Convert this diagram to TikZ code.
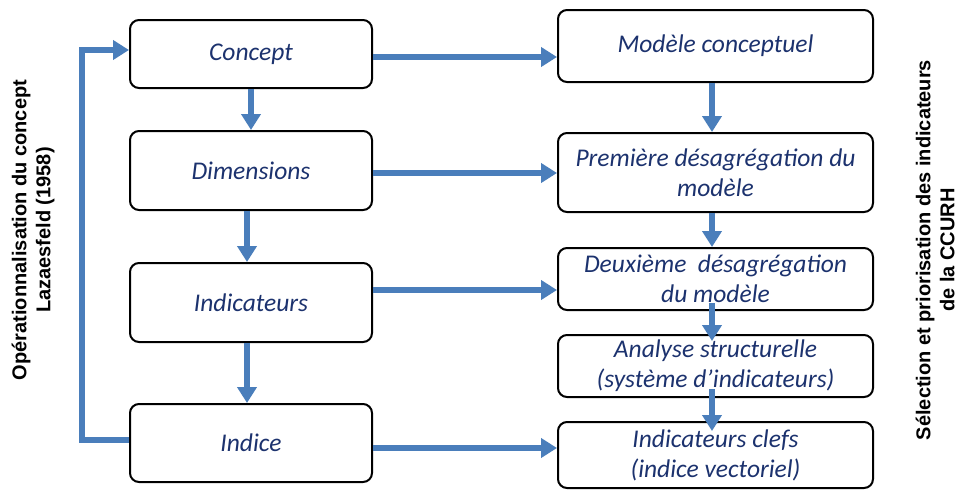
\documentclass[tikz,border=0pt]{standalone}
\usepackage{fontspec}
\setmainfont{Carlito}
\setsansfont{Liberation Sans}
\usetikzlibrary{arrows.meta}

\begin{document}
\begin{tikzpicture}[x=1pt,y=-1pt]
    % 定义颜色
    \definecolor{flowblue}{RGB}{74,126,187}
    \definecolor{textnavy}{RGB}{28,50,110}
    % 固定画布大小
    \useasboundingbox (0,0) rectangle (957,490);

    % --- 设置全局样式 ---
    % 方框样式
    \tikzset{BoxStyle/.style = {
        draw=black,             % 边框颜色
        fill=white,             % 填充颜色
        rounded corners=9pt,    % 圆角
        line width=2pt,         % 边框粗细
        inner sep=2pt,          % 内部文字边距
        align=center,           % 文字居中
        text=textnavy,          % 文字颜色
        font=\fontsize{25.5}{30}\selectfont\itshape
    }}

    % 箭头样式
    \tikzset{FlowStyle/.style = {
        -{Triangle[width=19pt,length=16pt]}, % 箭头
        line width=6pt,         % 线条粗细
        color=flowblue          % 线条颜色
    }}

    % 侧边文字样式
    \tikzset{SideStyle/.style = {
        rotate=90,
        align=center,
        font=\fontsize{20}{24}\selectfont\sffamily\bfseries
    }}

    % --- 定义节点 ---
    % 左列
    \node[BoxStyle, minimum width=242pt, minimum height=68pt] (concept) at (251,54) {Concept};
    \node[BoxStyle, minimum width=242pt, minimum height=79pt] (dim) at (251,170.5) {Dimensions};
    \node[BoxStyle, minimum width=242pt, minimum height=79pt] (ind) at (251,302.5) {Indicateurs};
    \node[BoxStyle, minimum width=242pt, minimum height=78pt] (indice) at (251,443) {Indice};

    % 右列
    \node[BoxStyle, minimum width=315pt, minimum height=72pt] (modele) at (715.5,46) {Modèle conceptuel};
    \node[BoxStyle, minimum width=315pt, minimum height=79pt] (desag1) at (715.5,172.5) {Première désagrégation du\\modèle};
    \node[BoxStyle, minimum width=315pt, minimum height=62pt] (desag2) at (715.5,279) {Deuxième\ \ désagrégation\\du modèle};
    \node[BoxStyle, minimum width=315pt, minimum height=62pt] (analyse) at (715.5,366) {Analyse structurelle\\(système d’indicateurs)};
    \node[BoxStyle, minimum width=315pt, minimum height=66pt] (clefs) at (715.5,455) {Indicateurs clefs\\(indice vectoriel)};

    % 侧边文字
    \node[SideStyle] (operat) at (33,230) {Opérationnalisation du concept\\Lazaesfeld (1958)};
    \node[SideStyle] (selection) at (935,250) {Sélection et priorisation des indicateurs\\de la CCURH};

    % --- 定义连线 ---
    % 左列纵向
    \draw[FlowStyle] (concept) -- (dim);
    \draw[FlowStyle] ([xshift=-4pt]dim.south) -- ([xshift=-4pt]ind.north);
    \draw[FlowStyle] ([xshift=-4pt]ind.south) -- ([xshift=-4pt]indice.north);

    % 右列纵向
    \draw[FlowStyle] ([xshift=-3.5pt]modele.south) -- ([xshift=-3.5pt]desag1.north);
    \draw[FlowStyle] ([xshift=-3.5pt]desag1.south) -- ([xshift=-3.5pt]desag2.north);
    \draw[FlowStyle, shorten <=-8pt, shorten >=-7pt] ([xshift=-3.5pt]desag2.south) -- ([xshift=-3.5pt]analyse.north);
    \draw[FlowStyle, shorten <=-9pt, shorten >=-10pt] ([xshift=-3.5pt]analyse.south) -- ([xshift=-3.5pt]clefs.north);

    % 左右横向
    \draw[FlowStyle] ([yshift=-3pt]concept.east) -- ([yshift=-3pt]concept.east -| modele.west);
    \draw[FlowStyle] ([yshift=-2.5pt]dim.east) -- ([yshift=-2.5pt]dim.east -| desag1.west);
    \draw[FlowStyle] ([yshift=12.5pt]ind.east) -- ([yshift=12.5pt]ind.east -| desag2.west);
    \draw[FlowStyle] ([yshift=-5pt]indice.east) -- ([yshift=-5pt]indice.east -| clefs.west);

    % 回环
    \draw[FlowStyle] ([yshift=3pt]indice.west) -- ++(-47,0) |- ([yshift=4pt]concept.west);

\end{tikzpicture}
\end{document}
